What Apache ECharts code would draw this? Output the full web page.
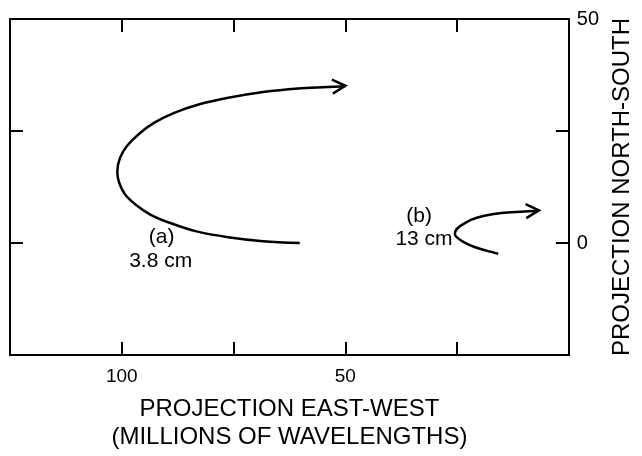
<!DOCTYPE html>
<html>
<head>
<meta charset="utf-8">
<script src="https://cdn.jsdelivr.net/npm/echarts@6/dist/echarts.min.js"></script>
<style>html,body{margin:0;padding:0;background:#fff}#c{width:642px;height:456px}</style>
</head>
<body>
<div id="c"></div>
<script>
// Curve (a) 3.8 cm: east-west / north-south projections (millions of wavelengths)
const aX = [60.2, 68.4, 76.2, 83.3, 89.0, 93.5, 96.8, 99.3, 100.6, 101.0, 100.4, 98.8, 96.1, 92.8, 88.4, 82.8, 76.2, 68.4, 60.6, 54.0, 50.0];
const aY = [0.0, 0.4, 1.3, 2.6, 4.4, 6.3, 8.5, 10.9, 13.5, 15.9, 19.0, 21.7, 24.4, 26.8, 29.0, 30.9, 32.4, 33.7, 34.5, 34.8, 35.0];
// Curve (b) 13 cm
const bX = [15.8, 18.4, 21.1, 23.5, 25.1, 25.5, 25.1, 23.8, 21.8, 18.9, 15.1, 10.7, 6.7];
const bY = [-2.4, -1.7, -0.9, 0.2, 1.3, 2.0, 3.1, 4.1, 5.2, 6.1, 6.7, 7.0, 7.2];
// Annotations
const noteText = ['(a)', '3.8 cm', '(b)', '13 cm'];
const noteX = [91.1, 91.3, 33.5, 32.4];
const noteY = [1.4, -4.1, 5.9, 0.9];
// Tick labels shown
const xLabels = [100, 50];
const yLabels = [50, 0];

const FONT = 'Liberation Sans';
const INK = '#000';
const arrowPath = 'path://M0,0 L12,6 L0,12';

function buildCurve(xs, ys, rot) {
  return xs.map((x, i) => {
    const item = { value: [x, ys[i]] };
    if (i === xs.length - 1) {
      item.symbol = arrowPath;
      item.symbolSize = [13, 14];
      item.symbolRotate = rot;
      item.symbolOffset = [-6.5, 0];
      item.itemStyle = { color: 'rgba(0,0,0,0)', borderColor: INK, borderWidth: 2.5 };
    }
    return item;
  });
}

const axisLine = { show: true, onZero: false, lineStyle: { color: INK, width: 2 } };
const axisTick = { show: true, inside: true, length: 13, lineStyle: { color: INK, width: 2 } };

const chart = echarts.init(document.getElementById('c'));
chart.setOption({
  animation: false,
  backgroundColor: '#fff',
  grid: { left: 10, right: 69, top: 19, bottom: 93, containLabel: false },
  xAxis: [{
    type: 'value', min: 0, max: 125, interval: 25, inverse: true, position: 'bottom',
    axisLine, axisTick, splitLine: { show: false },
    axisLabel: { color: INK, fontFamily: FONT, fontSize: 19, margin: 12,
      formatter: v => xLabels.includes(v) ? String(v) : '' },
    name: 'PROJECTION EAST-WEST\n(MILLIONS OF WAVELENGTHS)',
    nameLocation: 'middle', nameGap: 40,
    nameTextStyle: { color: INK, fontFamily: FONT, fontSize: 24, lineHeight: 28, verticalAlign: 'top' }
  }, {
    type: 'value', min: 0, max: 125, interval: 25, inverse: true, position: 'top',
    axisLine, axisTick, splitLine: { show: false }, axisLabel: { show: false }
  }],
  yAxis: [{
    type: 'value', min: -25, max: 50, interval: 25, position: 'right',
    axisLine, axisTick, splitLine: { show: false },
    axisLabel: { color: INK, fontFamily: FONT, fontSize: 20, margin: 8,
      formatter: v => yLabels.includes(v) ? String(v) : '' },
    name: 'PROJECTION NORTH-SOUTH', nameLocation: 'middle', nameGap: 27, nameRotate: 90,
    nameTextStyle: { color: INK, fontFamily: FONT, fontSize: 24 }
  }, {
    type: 'value', min: -25, max: 50, interval: 25, position: 'left',
    axisLine, axisTick, splitLine: { show: false }, axisLabel: { show: false }
  }],
  series: [{
    name: 'a', type: 'line', smooth: 0.35, symbol: 'none', color: INK,
    lineStyle: { color: INK, width: 2.5 }, data: buildCurve(aX, aY, 4)
  }, {
    name: 'b', type: 'line', smooth: 0.35, symbol: 'none', color: INK,
    lineStyle: { color: INK, width: 2.5 }, data: buildCurve(bX, bY, 3)
  }, {
    name: 'notes', type: 'scatter', symbolSize: 0, itemStyle: { color: INK, opacity: 1 },
    label: { show: true, position: 'inside', color: INK, fontFamily: FONT, fontSize: 21,
      formatter: p => p.name },
    data: noteText.map((t, i) => ({ name: t, value: [noteX[i], noteY[i]] }))
  }]
});
</script>
</body>
</html>
